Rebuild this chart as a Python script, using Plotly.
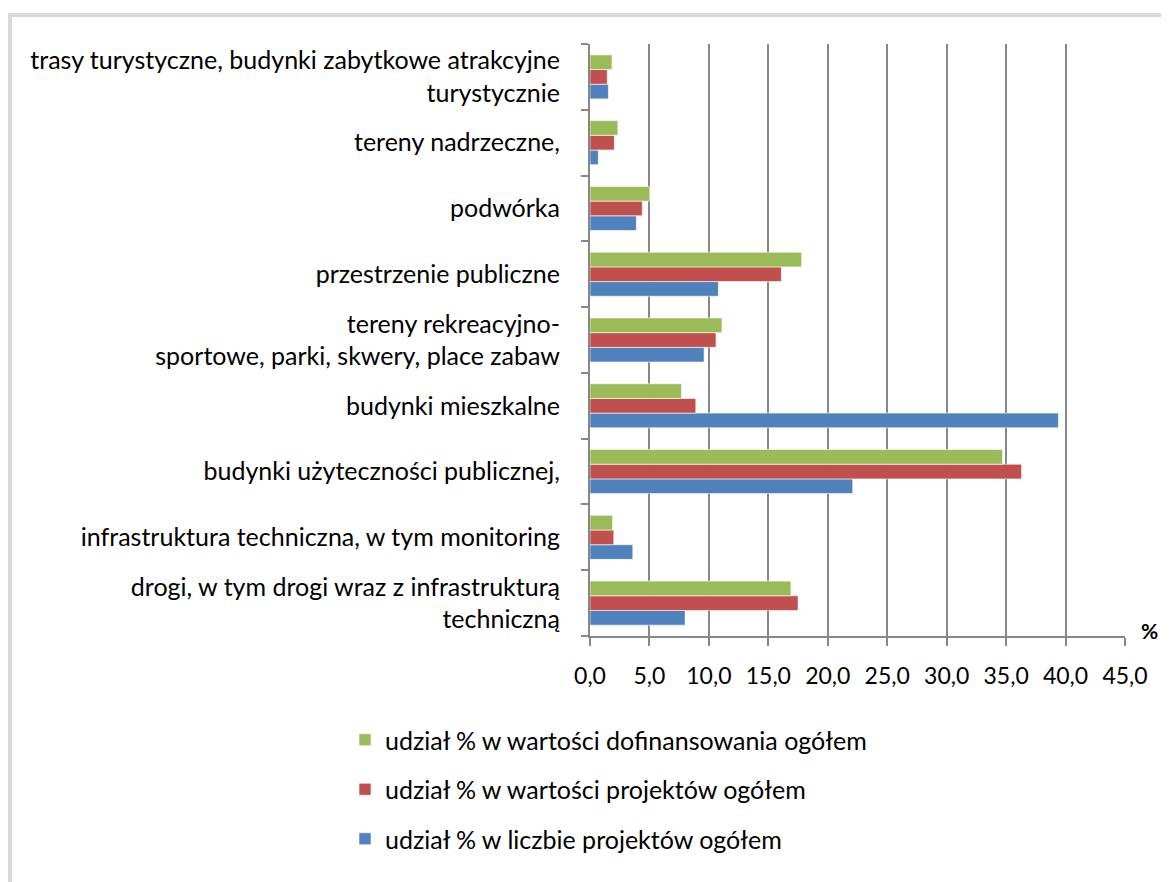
import plotly.graph_objects as go

# Categories listed bottom -> top (as drawn by plotly)
categories = [
    "drogi, w tym drogi wraz z infrastrukturą<br>techniczną",
    "infrastruktura techniczna, w tym monitoring",
    "budynki użyteczności publicznej,",
    "budynki mieszkalne",
    "tereny rekreacyjno-<br>sportowe, parki, skwery, place zabaw",
    "przestrzenie publiczne",
    "podwórka",
    "tereny nadrzeczne,",
    "trasy turystyczne, budynki zabytkowe atrakcyjne<br>turystycznie",
]

liczba_projektow = [8.0, 3.6, 22.1, 39.4, 9.6, 10.8, 3.9, 0.7, 1.55]
wartosc_projektow = [17.5, 2.0, 36.3, 8.9, 10.6, 16.1, 4.4, 2.05, 1.45]
wartosc_dofinansowania = [16.9, 1.9, 34.7, 7.7, 11.1, 17.8, 5.0, 2.35, 1.85]

series_names = [
    "udział % w liczbie projektów ogółem",
    "udział % w wartości projektów ogółem",
    "udział % w wartości dofinansowania ogółem",
]
series_colors = ["#4F81BD", "#C0504D", "#9BBB59"]
series_values = [liczba_projektow, wartosc_projektow, wartosc_dofinansowania]
legend_ranks = [3, 2, 1]

x_ticks = [0, 5, 10, 15, 20, 25, 30, 35, 40, 45]

OFF = 8  # default page body margin
W, H = 1169 - OFF, 882 - OFF
# plot area in window pixels
L, R, T, B = 590, 1125, 44, 636


def px_x(p):
    return (p - L) / (R - L)


def px_y(p):
    return (B - p) / (B - T)


FONT = "Lato"
fig = go.Figure()
for i, (name, vals, col) in enumerate(zip(series_names, series_values, series_colors)):
    fig.add_trace(go.Bar(
        y=categories, x=vals, name=name, orientation="h",
        marker=dict(color=col, line=dict(color="rgba(255,255,255,0.6)", width=1)),
        legendgroup=f"g{i}", legendrank=legend_ranks[i],
    ))

fig.update_layout(
    width=W, height=H,
    margin=dict(l=L - OFF, r=W - (R - OFF), t=T - OFF, b=H - (B - OFF), pad=0),
    paper_bgcolor="white", plot_bgcolor="white",
    barmode="group", bargap=0.33, bargroupgap=0,
    separators=", ",
    font=dict(family=FONT, size=25, color="#000000"),
    showlegend=True,
    legend=dict(
        x=px_x(345), y=px_y(717), xanchor="left", yanchor="top",
        traceorder="grouped", tracegroupgap=14,
        font=dict(family=FONT, size=25, color="#000000"),
        bgcolor="rgba(0,0,0,0)",
    ),
    xaxis=dict(
        range=[0, 45], tickvals=x_ticks, tickformat=".1f",
        showgrid=True, gridcolor="#878787", gridwidth=2,
        zeroline=False, showline=True, linecolor="#878787", linewidth=2,
        ticks="outside", ticklen=8, tickwidth=2, tickcolor="#878787",
        ticklabelstandoff=10, tickfont=dict(family=FONT, size=23),
        fixedrange=True,
    ),
    yaxis=dict(
        type="category", categoryorder="array", categoryarray=categories,
        showgrid=False, zeroline=False, showline=True, linecolor="#878787", linewidth=2,
        ticks="outside", ticklen=7, tickwidth=2, tickcolor="#878787",
        tickson="boundaries", ticklabelstandoff=23,
        tickfont=dict(family=FONT, size=25),
        fixedrange=True,
    ),
    shapes=[
        dict(type="rect", xref="paper", yref="paper",
             x0=px_x(10), x1=px_x(1300), y0=px_y(1000), y1=px_y(15),
             line=dict(color="#D9D9D9", width=4), fillcolor="rgba(0,0,0,0)", layer="below"),
    ],
    annotations=[
        dict(text="<b>%</b>", xref="paper", yref="paper", x=px_x(1149), y=px_y(630),
             showarrow=False, xanchor="center", yanchor="middle",
             font=dict(family=FONT, size=21, color="#000000")),
    ],
)

fig.write_html("out.html")
